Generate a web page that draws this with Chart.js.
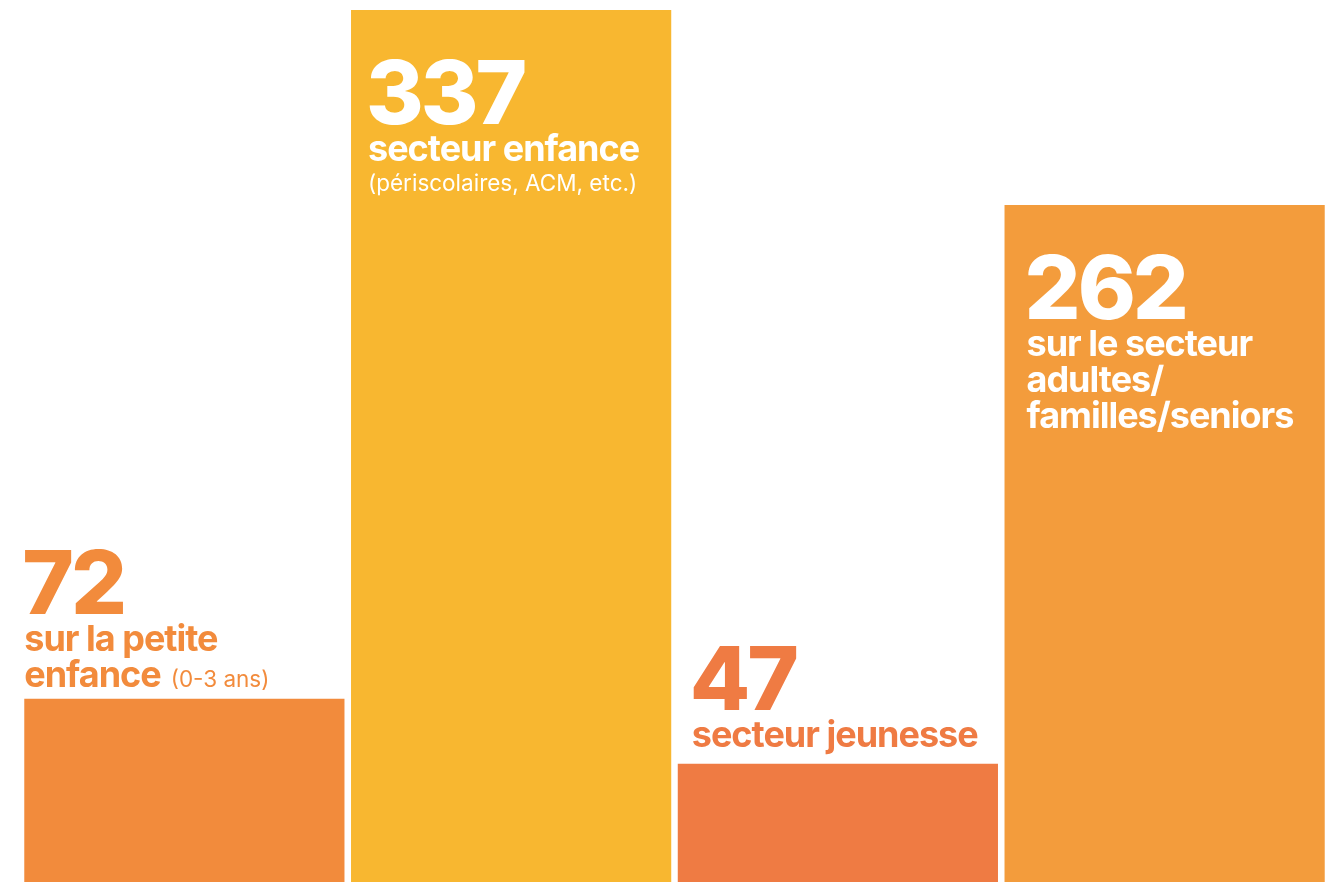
<!DOCTYPE html>
<html>
<head>
<meta charset="utf-8">
<script src="https://cdn.jsdelivr.net/npm/chart.js@4.4.0/dist/chart.umd.min.js"></script>
<style>
  html, body { margin: 0; padding: 0; background: #fff; }
  #wrap { width: 1338px; height: 882px; }
</style>
</head>
<body>
<div id="wrap"><canvas id="barChart"></canvas></div>
<script>
const categories = ["petite enfance", "enfance", "jeunesse", "adultes/familles/seniors"];
const values = [72, 337, 47, 262];
const barColors = ["#F28B3C", "#F8B730", "#EF7B43", "#F39C3C"];
const subtitles = [
  ["sur la petite", "enfance"],
  ["secteur enfance"],
  ["secteur jeunesse"],
  ["sur le secteur", "adultes/", "familles/seniors"]
];
const notes = ["(0-3 ans)", "(périscolaires, ACM, etc.)", "", ""];

// text above the bar for short ones, inside for tall ones
const labelPlugin = {
  id: "barLabels",
  afterDatasetsDraw(chart) {
    const ctx = chart.ctx;
    const meta = chart.getDatasetMeta(0);
    meta.data.forEach((bar, i) => {
      const left = bar.x - bar.width / 2;
      const inside = values[i] > 200;
      const color = inside ? "#ffffff" : barColors[i];
      const x = left + (inside ? [0, 17, 0, 22][i] : [0, 0, 14, 0][i]);
      const lines = subtitles[i];
      const lh = 36;
      let numBase;
      if (inside) {
        numBase = bar.y + 114;
      } else {
        const lastBase = bar.y - (i === 0 ? 12 : 17);
        numBase = lastBase - lh * (lines.length - 1) - 37;
      }
      ctx.save();
      ctx.fillStyle = color;
      ctx.textBaseline = "alphabetic";
      ctx.font = "800 88px Inter";
      ctx.letterSpacing = "-3px";
      ctx.fillText(String(values[i]), x - 2, numBase);
      ctx.font = "700 36px Inter";
      ctx.letterSpacing = "-1px";
      let y = numBase + 37;
      lines.forEach((ln, k) => {
        ctx.fillText(ln, x, y);
        if (k === lines.length - 1 && notes[i] && i === 0) {
          const w = ctx.measureText(ln).width;
          ctx.font = "400 22.5px Inter";
          ctx.letterSpacing = "0px";
          ctx.fillText(notes[i], x + w + 10, y);
        }
        y += lh;
      });
      if (notes[i] && i !== 0) {
        ctx.font = "400 22.5px Inter";
        ctx.letterSpacing = "0px";
        ctx.fillText(notes[i], x, y - lh + 30);
      }
      ctx.restore();
    });
  }
};

new Chart(document.getElementById("barChart"), {
  type: "bar",
  data: {
    labels: categories,
    datasets: [{
      data: values,
      backgroundColor: barColors,
      borderWidth: 0,
      barPercentage: 0.98,
      categoryPercentage: 1
    }]
  },
  options: {
    responsive: true,
    maintainAspectRatio: false,
    animation: false,
    layout: { padding: { top: 10, left: 21, right: 10, bottom: 0 } },
    plugins: { legend: { display: false }, tooltip: { enabled: false } },
    scales: {
      x: { display: false },
      y: { display: false, min: 1.5, max: 337 }
    }
  },
  plugins: [labelPlugin]
});
</script>
</body>
</html>
